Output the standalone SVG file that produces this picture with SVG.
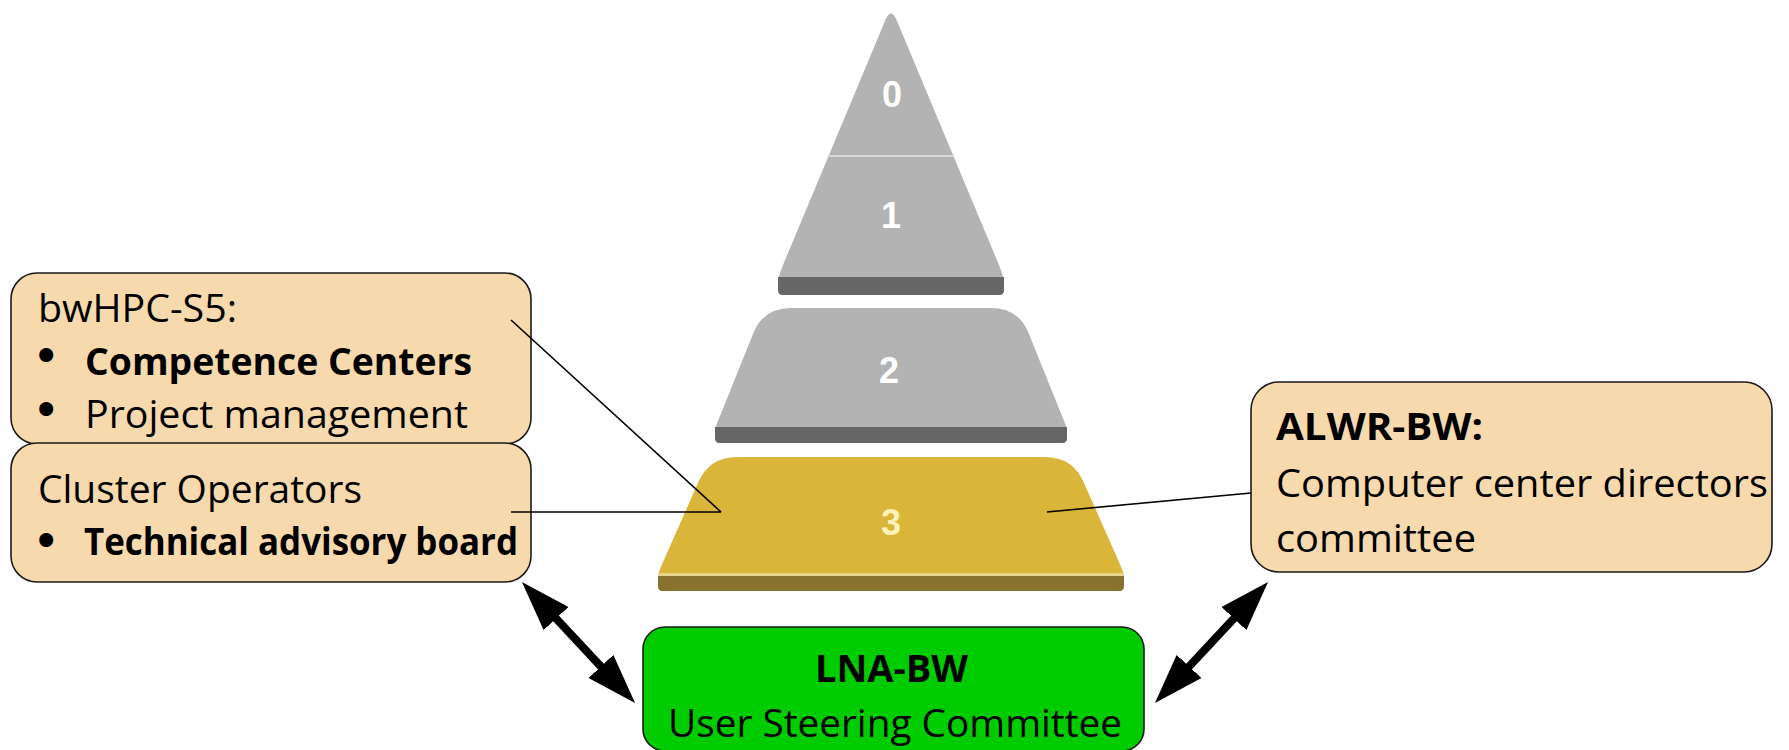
<svg xmlns="http://www.w3.org/2000/svg" width="1789" height="750" viewBox="0 0 1789 750">
<style>
.box{fill:#F6D9AC;stroke:#1a1a1a;stroke-width:1.6}
.green{fill:#00CC00;stroke:#1a1a1a;stroke-width:1.6}
.t{font-family:"Open Sans","Liberation Sans",sans-serif;font-size:38px;fill:#000}
.b{font-weight:700}
.bul{font-family:"DejaVu Sans",sans-serif;font-size:48px;fill:#000}
.num{font-family:"Liberation Sans",sans-serif;font-weight:700;font-size:36px;text-anchor:middle}
.conn{stroke:#000;stroke-width:1.6;fill:none}
.arr{stroke:#000;stroke-width:8;fill:none;marker-start:url(#head);marker-end:url(#head)}
</style>
<defs>
<marker id="head" markerUnits="userSpaceOnUse" markerWidth="50" markerHeight="34" refX="30" refY="17" orient="auto-start-reverse">
<path d="M0,0 L50,17 L0,34 Z" fill="#000"/>
</marker>
</defs>
<rect width="1789" height="750" fill="#fff"/>
<g id="pyramid">
<g id="tier01">
<path d="M885,21 Q891,6 897,21 L999,265 Q1004,277 1004,285 L1004,290 Q1004,295 999,295 L783,295 Q778,295 778,290 L778,285 Q778,277 783,265 Z" fill="#B3B3B3"/>
<path d="M778,277 L1004,277 L1004,290 Q1004,295 999,295 L783,295 Q778,295 778,290 Z" fill="#666"/>
<line x1="828" y1="156" x2="954" y2="156" stroke="#DADADA" stroke-width="2"/>
<text class="num" x="892" y="107" fill="#fff">0</text>
<text class="num" x="891" y="228" fill="#fff">1</text>
</g>
<g id="tier2">
<path d="M791,308 L991,308 Q1019,308 1029,334 L1062,416 Q1067,427 1067,432 L1067,438 Q1067,443 1062,443 L720,443 Q715,443 715,438 L715,432 Q715,427 720,416 L753,334 Q763,308 791,308 Z" fill="#B3B3B3"/>
<path d="M715,427 L1067,427 L1067,438 Q1067,443 1062,443 L720,443 Q715,443 715,438 Z" fill="#666"/>
<text class="num" x="889" y="383" fill="#fff">2</text>
</g>
<g id="tier3">
<path d="M737,457 L1045,457 Q1073,457 1084,483 L1119,562 Q1124,573 1124,578 L1124,586 Q1124,591 1119,591 L663,591 Q658,591 658,586 L658,578 Q658,573 663,562 L698,483 Q709,457 737,457 Z" fill="#D9B53A"/>
<rect x="658" y="573" width="466" height="3" fill="#E8D48C"/>
<path d="M658,576 L1124,576 L1124,586 Q1124,591 1119,591 L663,591 Q658,591 658,586 Z" fill="#88722F"/>
<text class="num" x="891" y="535" fill="#FFF2B8">3</text>
</g>
</g>
<g id="bwhpc">
<rect class="box" x="11" y="273" width="520" height="171" rx="26"/>
<text class="t" x="38" y="322" textLength="199" lengthAdjust="spacingAndGlyphs">bwHPC-S5:</text>
<text class="bul" x="32" y="373">•</text>
<text class="t b" x="85" y="375" textLength="387" lengthAdjust="spacingAndGlyphs">Competence Centers</text>
<text class="bul" x="32" y="427">•</text>
<text class="t" x="85" y="428" textLength="383" lengthAdjust="spacingAndGlyphs">Project management</text>
</g>
<g id="operators">
<rect class="box" x="11" y="443" width="520" height="139" rx="26"/>
<text class="t" x="38" y="503" textLength="324" lengthAdjust="spacingAndGlyphs">Cluster Operators</text>
<text class="bul" x="32" y="558">•</text>
<text class="t b" x="84" y="555" textLength="434" lengthAdjust="spacingAndGlyphs">Technical advisory board</text>
</g>
<g id="alwr">
<rect class="box" x="1251" y="382" width="521" height="190" rx="28"/>
<text class="t b" x="1276" y="440" textLength="207" lengthAdjust="spacingAndGlyphs">ALWR-BW:</text>
<text class="t" x="1276" y="497" textLength="492" lengthAdjust="spacingAndGlyphs">Computer center directors</text>
<text class="t" x="1276" y="552" textLength="200" lengthAdjust="spacingAndGlyphs">committee</text>
</g>
<g id="lna">
<rect class="green" x="643" y="627" width="501" height="124" rx="22"/>
<text class="t b" x="815" y="682" textLength="153" lengthAdjust="spacingAndGlyphs">LNA-BW</text>
<text class="t" x="668" y="737" textLength="454" lengthAdjust="spacingAndGlyphs">User Steering Committee</text>
</g>
<g id="connectors">
<line class="conn" x1="511" y1="320" x2="721" y2="512"/>
<line class="conn" x1="511" y1="512" x2="721" y2="512"/>
<line class="conn" x1="1251" y1="493" x2="1047" y2="512"/>
<line class="arr" x1="535.6" y1="596.6" x2="621.4" y2="688.4"/>
<line class="arr" x1="1254.4" y1="596.6" x2="1168.6" y2="688.4"/>
</g>
</svg>
